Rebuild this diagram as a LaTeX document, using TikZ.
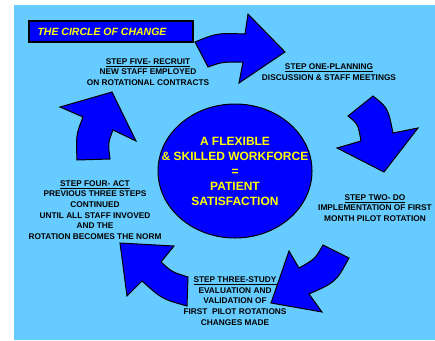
\documentclass[tikz,border=0pt]{standalone}
\usepackage{fontspec}
\setmainfont{Liberation Sans}
\usetikzlibrary{shapes.geometric}
\begin{document}
\begin{tikzpicture}[x=1pt,y=-1pt,
	cyclearrow/.style={draw=black,line width=1pt,fill=changeblue,line join=miter},
	steptext/.style={align=center,text=black,font=\fontsize{8.3}{10.6}\selectfont\bfseries},
	hubtext/.style={align=center,text=changeyellow,font=\fontsize{12}{15}\selectfont\bfseries}]
				\definecolor{skyback}{RGB}{102,204,255}
				\definecolor{changeblue}{RGB}{0,0,255}
				\definecolor{changeyellow}{RGB}{255,255,0}
				\useasboundingbox (0,0) rectangle (435,340);
				\fill[skyback] (14,5) rectangle (435,340);
				% title
				\draw[fill=changeblue,line width=1.2pt] (29,21) rectangle (193,42);
				\node[anchor=west,text=changeyellow,font=\fontsize{10.5}{12}\selectfont\bfseries\itshape] (title) at (34,32) {THE CIRCLE OF CHANGE};
				% hub
				\node[ellipse,draw=black,line width=1pt,fill=changeblue,minimum width=154pt,minimum height=134pt,inner sep=0pt] (hub) at (235,171) {};
				\node[hubtext] (hubtxt) at (hub.center) {A FLEXIBLE\\ \& SKILLED WORKFORCE\\ =\\ PATIENT\\ SATISFACTION};
				% arrows round the hub
				\draw[cyclearrow] (195,42) .. controls (217,33) .. (245,34) -- (248,14) -- (285,52) -- (239,83) -- (243,62) .. controls (222,62) .. (208,67) -- cycle;
				\draw[cyclearrow] (373,96) .. controls (388,108) .. (393,133) -- (418,128) -- (384,172) -- (337,148) -- (361,141) .. controls (358,124) .. (348,116) -- cycle;
				\draw[cyclearrow] (323,245) -- (349,258) .. controls (336,282) .. (309,294) -- (322,312) -- (271,303) -- (289,251) -- (299,268) .. controls (315,259) .. (323,245) -- cycle;
				\draw[cyclearrow] (120,243) -- (174,246) -- (161,262) .. controls (172,272) .. (188,277) -- (187,306) .. controls (162,299) .. (142,281) -- (127,296) -- cycle;
				\draw[cyclearrow] (77,160) .. controls (76,135) .. (83,117) -- (60,107) -- (112,92) -- (136,141) -- (113,130) .. controls (108,143) .. (110,159) -- cycle;
				% steps
				\node[steptext] (one) at (329,72) {\underline{STEP ONE-PLANNING}\\ DISCUSSION \& STAFF MEETINGS};
				\node[steptext] (two) at (375,208) {\underline{STEP TWO- DO}\\ IMPLEMENTATION OF FIRST\\ MONTH PILOT ROTATION};
				\node[steptext] (three) at (235,301) {\underline{STEP THREE-STUDY}\\ EVALUATION AND\\ VALIDATION OF\\ FIRST\ \ PILOT ROTATIONS\\ CHANGES MADE};
				\node[steptext] (four) at (95,210) {\underline{STEP FOUR- ACT}\\ PREVIOUS THREE STEPS\\ CONTINUED\\ UNTIL ALL STAFF INVOVED\\ AND THE\\ ROTATION BECOMES THE NORM};
				\node[steptext] (five) at (148,72) {\underline{STEP FIVE- RECRUIT}\\ NEW STAFF EMPLOYED\\ ON ROTATIONAL CONTRACTS};
			\end{tikzpicture}
\end{document}
